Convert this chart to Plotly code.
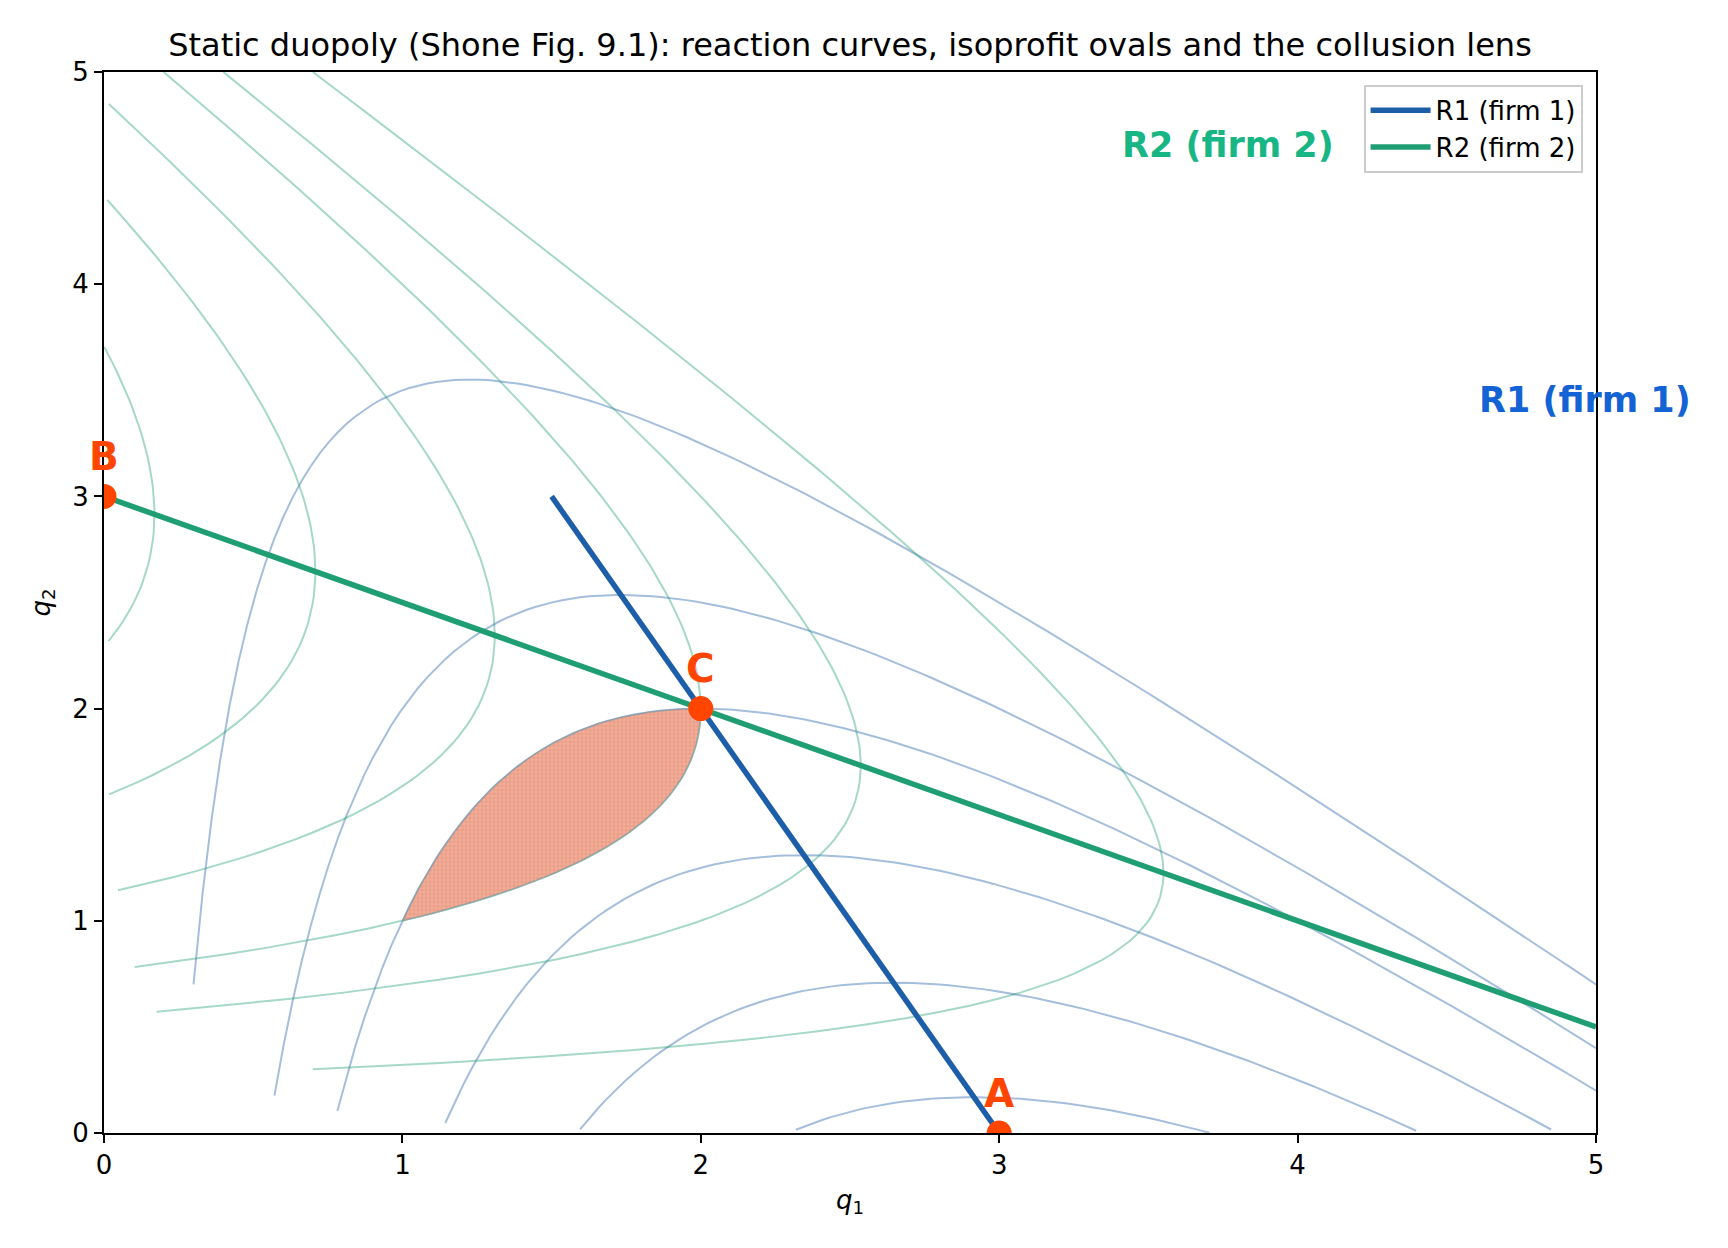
import numpy as np
import plotly.graph_objects as go

# inverse demand p = a - q1 - q2, zero cost
a = 6.0
levels_firm1 = [1.5, 3.0, 4.0, 5.5, 7.0, 8.5]
levels_firm2 = [1.5, 3.0, 4.0, 5.5, 7.0, 8.5]
cournot_profit = 4.0

# reaction curves (end points)
r1_q1 = [1.5, 3.0]
r1_q2 = [3.0, 0.0]
r2_q1 = [0.0, 5.0]
r2_q2 = [3.0, 0.5]

# labelled points
pt_names = ["A", "B", "C"]
pt_q1 = [3.0, 0.0, 2.0]
pt_q2 = [0.0, 3.0, 2.0]

ticks = [0, 1, 2, 3, 4, 5]

BLUE = "#1c5fa8"
GREEN = "#1f9e74"
RED = "#ff4500"
FONT = "DejaVu Sans"

q = np.linspace(0.3, 5.0, 157)

fig = go.Figure()

# isoprofit curves of firm 1 (hills peaking on R1)
for k in levels_firm1:
    other = a - q - k / q
    other = np.where(other >= 0, other, np.nan)
    fig.add_trace(go.Scatter(x=q, y=other, mode="lines", showlegend=False, hoverinfo="skip",
                             line=dict(color="rgba(40,100,170,0.42)", width=2)))

# isoprofit curves of firm 2 (sideways hills peaking on R2)
for k in levels_firm2:
    other = a - q - k / q
    other = np.where(other >= 0, other, np.nan)
    fig.add_trace(go.Scatter(x=other, y=q, mode="lines", showlegend=False, hoverinfo="skip",
                             line=dict(color="rgba(31,158,116,0.40)", width=2)))

# collusion lens: both firms earn at least the Cournot profit
s = np.linspace(1.0, 2.0, 80)
upper_x = s
upper_y = a - s - cournot_profit / s
lower_y = s[::-1]
lower_x = a - lower_y - cournot_profit / lower_y
lens_x = np.concatenate([upper_x, lower_x])
lens_y = np.concatenate([upper_y, lower_y])
fig.add_trace(go.Scatter(x=lens_x, y=lens_y, mode="lines", fill="toself", showlegend=False,
                         hoverinfo="skip", line=dict(color="rgba(120,150,160,0.6)", width=1.5),
                         fillcolor="rgba(232,128,98,0.6)",
                         fillpattern=dict(shape="+", size=4, solidity=0.3,
                                          fgcolor="rgba(222,112,80,0.9)",
                                          bgcolor="rgba(238,160,138,0.85)")))

fig.add_trace(go.Scatter(x=r1_q1, y=r1_q2, mode="lines", name="R1 (firm 1)",
                         line=dict(color=BLUE, width=5.5)))
fig.add_trace(go.Scatter(x=r2_q1, y=r2_q2, mode="lines", name="R2 (firm 2)",
                         line=dict(color=GREEN, width=5.5)))

fig.add_trace(go.Scatter(x=pt_q1, y=pt_q2, mode="markers", showlegend=False,
                         marker=dict(color=RED, size=25), cliponaxis=True))

for name, x, y in zip(pt_names, pt_q1, pt_q2):
    fig.add_annotation(x=x, y=y, text="<b>%s</b>" % name, showarrow=False, yshift=40,
                       yanchor="middle", font=dict(color=RED, size=39, family=FONT))

fig.add_annotation(x=3.405, y=4.655, text="<b>R2 (firm 2)</b>", showarrow=False,
                   xanchor="left", yanchor="middle", font=dict(color="#17b684", size=35, family=FONT))
fig.add_annotation(x=4.60, y=3.455, text="<b>R1 (firm 1)</b>", showarrow=False,
                   xanchor="left", yanchor="middle", font=dict(color="#1463d4", size=35, family=FONT))

# axis labels
fig.add_annotation(xref="paper", yref="paper", x=0.5, y=-0.065, text="<i>q</i><sub>1</sub>",
                   showarrow=False, yanchor="middle", font=dict(size=26, family=FONT))
fig.add_annotation(xref="paper", yref="paper", x=-0.0415, y=0.5, text="<i>q</i><sub>2</sub>",
                   showarrow=False, textangle=-90, xanchor="center", font=dict(size=26, family=FONT))

axis_style = dict(range=[0, 5], tickvals=ticks, showgrid=False, zeroline=False, showline=True,
                  linecolor="black", linewidth=2, mirror=True, ticks="outside", ticklen=8,
                  tickwidth=2, tickcolor="black", tickfont=dict(size=26, color="black", family=FONT))
fig.update_xaxes(**axis_style)
fig.update_yaxes(**axis_style)

fig.update_layout(
    width=1728, height=1248,
    margin=dict(l=96, r=140, t=64, b=123),
    plot_bgcolor="white", paper_bgcolor="white",
    font=dict(family=FONT, color="black"),
    title=dict(text="Static duopoly (Shone Fig. 9.1): reaction curves, isoprofit ovals and the collusion lens",
               x=0.5, xref="paper", xanchor="center", y=1 - 37 / 1248, yref="container", yanchor="middle",
               font=dict(size=32, family=FONT, color="black")),
    legend=dict(x=0.991, y=0.988, xanchor="right", yanchor="top", bgcolor="rgba(255,255,255,0.85)",
                bordercolor="#cccccc", borderwidth=2, itemwidth=60, font=dict(size=26, family=FONT)),
)

fig.write_html("out.html")
